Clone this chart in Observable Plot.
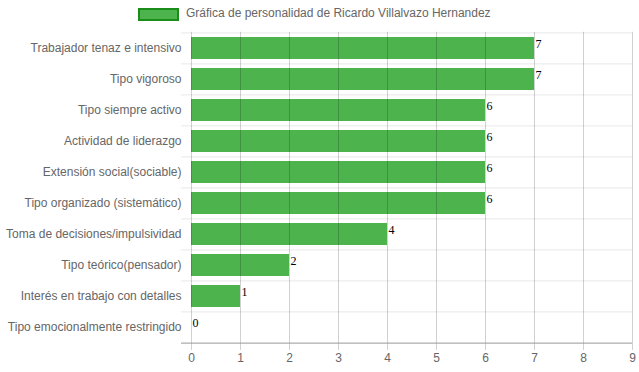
<!DOCTYPE html>
<html>
<head>
<meta charset="utf-8">
<script src="https://cdn.jsdelivr.net/npm/d3@7"></script>
<script src="https://cdn.jsdelivr.net/npm/@observablehq/plot@0.6"></script>
<style>
  body { margin: 0; background: #fff; font-family: "Liberation Sans", Arial, sans-serif; }
  #legend { height: 31px; position: relative; }
  #legend .box { position: absolute; left: 138px; top: 8px; width: 37px; height: 9px; background: #4db34d; border: 2px solid #1a8c1a; }
  #legend .lbl { position: absolute; left: 186px; top: 6px; font-size: 12px; color: #666; white-space: nowrap; }
</style>
</head>
<body>
<div id="legend"><div class="box"></div><div class="lbl">Gráfica de personalidad de Ricardo Villalvazo Hernandez</div></div>
<div id="chart"></div>
<script>
const seriesName = "Gráfica de personalidad de Ricardo Villalvazo Hernandez";
const categories = [
  "Trabajador tenaz e intensivo",
  "Tipo vigoroso",
  "Tipo siempre activo",
  "Actividad de liderazgo",
  "Extensión social(sociable)",
  "Tipo organizado (sistemático)",
  "Toma de decisiones/impulsividad",
  "Tipo teórico(pensador)",
  "Interés en trabajo con detalles",
  "Tipo emocionalmente restringido"
];
const values = [7, 7, 6, 6, 6, 6, 4, 2, 1, 0];
const xTicks = [0, 1, 2, 3, 4, 5, 6, 7, 8, 9];

const data = categories.map((c, i) => ({cat: c, value: values[i]}));
const H = 341, mTop = 0.8, mBottom = 28;
const step = (H - mTop - mBottom) / categories.length;

const chart = Plot.plot({
  width: 639,
  height: H,
  marginTop: mTop,
  marginBottom: mBottom,
  marginLeft: 191,
  marginRight: 7,
  style: {fontFamily: "Liberation Sans, Arial, sans-serif", fontSize: "12px", color: "#666", background: "#fff"},
  x: {domain: [0, 9], ticks: xTicks, label: null},
  y: {domain: categories, paddingInner: 0.28, paddingOuter: 0.14, label: null},
  marks: [
    Plot.ruleY(categories, {y: d => d, dy: -step / 2, stroke: "#e8e8e8", strokeWidth: 1, insetLeft: -10}),
    Plot.barX(data, {x: "value", y: "cat", fill: "#4db34d"}),
    Plot.ruleX(xTicks, {x: d => d, stroke: "#000", strokeOpacity: 0.18, insetBottom: -6}),
    Plot.ruleY([categories[categories.length - 1]], {y: d => d, dy: step / 2, stroke: "#999", insetLeft: -10}),
    Plot.text(data, {x: "value", y: "cat", text: d => String(d.value), textAnchor: "start", dx: 1, dy: -4, fontFamily: "Liberation Serif, Times New Roman, serif", fontSize: 12, fill: "#000"}),
    Plot.axisX({ticks: xTicks, tickSize: 0, tickPadding: 9, fill: "#666", fontSize: 12, tickFormat: d => String(d)}),
    Plot.axisY({tickSize: 0, tickPadding: 10, fill: "#666", fontSize: 12})
  ]
});
document.getElementById("chart").appendChild(chart);
</script>
</body>
</html>
